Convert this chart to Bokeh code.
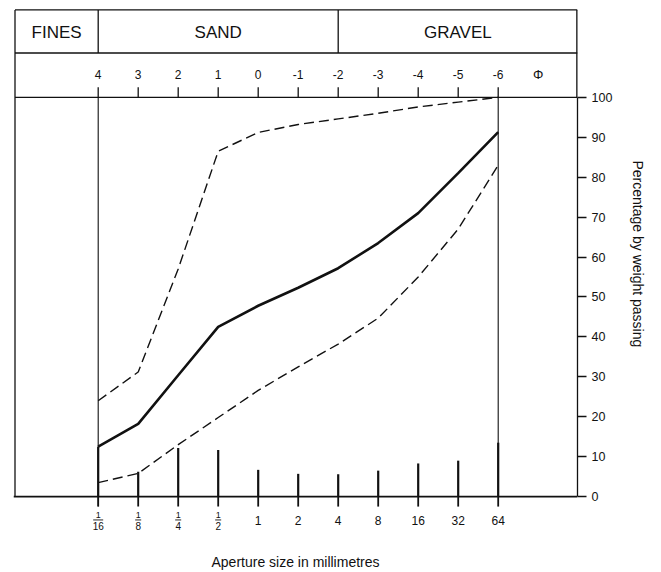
import numpy as np
from bokeh.plotting import figure
from bokeh.models import LinearAxis, FixedTicker, Range1d, ColumnDataSource, Title
from bokeh.core.properties import value
from bokeh.embed import file_html
from bokeh.resources import INLINE

# ---------------- data ----------------
phi = [4, 3, 2, 1, 0, -1, -2, -3, -4, -5, -6]
aperture_mm = ["1/16", "1/8", "1/4", "1/2", "1", "2", "4", "8", "16", "32", "64"]
median_pct = [12.5, 18.2, 30.4, 42.5, 47.8, 52.3, 57.2, 63.5, 71.0, 81.0, 91.3]
upper_pct = [24.0, 31.2, 57.0, 86.5, 91.2, 93.2, 94.6, 96.0, 97.6, 98.8, 100.0]
lower_pct = [3.5, 5.8, 13.0, 19.8, 26.6, 32.5, 38.2, 44.7, 55.0, 67.0, 83.0]
fraction_pct = [12.5, 6.2, 12.2, 11.7, 6.7, 5.7, 5.6, 6.5, 8.3, 9.0, 13.5]
classes = ["FINES", "SAND", "GRAVEL"]
class_limits_phi = [4, -2]          # fines/sand and sand/gravel limits
pct_ticks = list(range(0, 101, 10))
phi_symbol = "Φ"
y_title = "Percentage by weight passing"
x_title = "Aperture size in millimetres"

# ---------------- styles ----------------
INK = "#111111"
FONT = "Liberation Sans"

u = -np.array(phi, dtype=float)       # log2 of aperture in mm
X0, X1 = -6.1175, 7.9825
Y0, Y1 = -12.75, 122.25
XL = X0 + 1.5 / 40                    # left edge of the frame box
Y_TOP = 121.9                          # top edge of the box
Y_ROW = 111.1                          # divider between class row and phi row
Y_PHI_TXT = 105.8
Y_CLS_TXT = 116.3

p = figure(width=661, height=572, output_backend="svg", toolbar_location=None,
           x_range=Range1d(X0, X1), y_range=Range1d(Y0, Y1),
           x_axis_location=None, y_axis_location=None,
           min_border_left=13, min_border_right=84, min_border_top=8,
           min_border_bottom=24)
p.outline_line_color = None
p.grid.visible = False
p.background_fill_color = "white"
p.border_fill_color = "white"

# ---------- box / header frame ----------
u_lim = [-float(v) for v in class_limits_phi]
hx0 = [XL, XL, XL, XL] + u_lim
hx1 = [XL, X1, X1, X1] + u_lim
hy0 = [0, Y_TOP, Y_ROW, 100] + [Y_ROW, Y_ROW]
hy1 = [Y_TOP, Y_TOP, Y_ROW, 100] + [Y_TOP, Y_TOP]
p.segment(x0=hx0, y0=hy0, x1=hx1, y1=hy1, line_color=INK, line_width=1.3)
# right edge above the axis (half clipped at the frame edge)
p.segment(x0=[X1], y0=[100], x1=[X1], y1=[Y_TOP], line_color=INK, line_width=2.6)

# class names
edges = [XL] + u_lim + [X1]
cls_x = [(edges[i] + edges[i + 1]) / 2 for i in range(len(classes))]
p.text(x=cls_x, y=[Y_CLS_TXT] * len(classes), text=classes,
       text_font=value(FONT), text_font_size="17px", text_align="center",
       text_baseline="middle", text_color=INK)

# phi ticks and labels
p.segment(x0=u, y0=[100] * len(u), x1=u, y1=[102.5] * len(u),
          line_color=INK, line_width=1.3)
p.text(x=u, y=[Y_PHI_TXT] * len(u), text=[str(v) for v in phi],
       text_font=value(FONT), text_font_size="12px", text_align="center",
       text_baseline="middle", text_color=INK)
p.text(x=[u[-1] + 1], y=[Y_PHI_TXT], text=[phi_symbol],
       text_font=value(FONT), text_font_size="13px", text_align="center",
       text_baseline="middle", text_color=INK)

# limits of the sieve range (thin full-height lines)
p.segment(x0=[u[0], u[-1]], y0=[-2.5, 0], x1=[u[0], u[-1]], y1=[100, 100],
          line_color=INK, line_width=1.1)

# baseline and bottom ticks
p.segment(x0=[X0], y0=[0], x1=[X1], y1=[0], line_color=INK, line_width=1.6)
p.segment(x0=u, y0=[0] * len(u), x1=u, y1=[-2.5] * len(u),
          line_color=INK, line_width=1.8)

# bottom aperture labels
int_idx = [i for i, s in enumerate(aperture_mm) if "/" not in s]
frac_idx = [i for i, s in enumerate(aperture_mm) if "/" in s]
p.text(x=u[int_idx], y=[-5.9] * len(int_idx), text=[aperture_mm[i] for i in int_idx],
       text_font=value(FONT), text_font_size="12px", text_align="center",
       text_baseline="middle", text_color=INK)
nums = [aperture_mm[i].split("/")[0] for i in frac_idx]
dens = [aperture_mm[i].split("/")[1] for i in frac_idx]
p.text(x=u[frac_idx], y=[-4.6] * len(frac_idx), text=nums,
       text_font=value(FONT), text_font_size="9px", text_align="center",
       text_baseline="middle", text_color=INK)
p.text(x=u[frac_idx], y=[-7.3] * len(frac_idx), text=dens,
       text_font=value(FONT), text_font_size="10px", text_align="center",
       text_baseline="middle", text_color=INK)
half = [(5.0 if len(d) > 1 else 3.0) / 40 for d in dens]
p.segment(x0=u[frac_idx] - half, y0=[-5.85] * len(frac_idx),
          x1=u[frac_idx] + half, y1=[-5.85] * len(frac_idx),
          line_color=INK, line_width=0.9)

# fraction spikes
p.segment(x0=u, y0=[0] * len(u), x1=u, y1=fraction_pct, line_color=INK, line_width=2.2)

# grading curves
src = ColumnDataSource(dict(u=u, med=median_pct, up=upper_pct, lo=lower_pct))
p.line("u", "up", source=src, line_color=INK, line_width=1.4, line_dash="10 5")
p.line("u", "lo", source=src, line_color=INK, line_width=1.4, line_dash="10 5")
p.line("u", "med", source=src, line_color=INK, line_width=2.6)

# right percentage axis
ax = LinearAxis(ticker=FixedTicker(ticks=pct_ticks), bounds=(0, 100),
                major_label_text_font=FONT, major_label_text_font_size="12.5px",
                major_label_text_color=INK, major_label_standoff=5,
                major_tick_out=9, major_tick_in=0, major_tick_line_color=INK,
                major_tick_line_width=1.3, minor_tick_line_color=None,
                axis_line_color=INK, axis_line_width=1.3)
p.add_layout(ax, "right")

# vertical title of the percentage axis (reads top to bottom)
p.add_layout(Title(text=y_title, align="left", offset=152, vertical_align="middle",
                   standoff=27, text_font=FONT, text_font_size="14px",
                   text_font_style="normal", text_color=INK), "right")

# bottom title as an axis label
bx = LinearAxis(ticker=FixedTicker(ticks=[]), axis_line_color=None,
                major_tick_line_color=None, minor_tick_line_color=None,
                major_tick_out=0, major_tick_in=0, major_label_standoff=0,
                major_label_text_font_size="0px",
                axis_label=x_title, axis_label_standoff=6,
                axis_label_text_font=FONT, axis_label_text_font_size="14px",
                axis_label_text_font_style="normal", axis_label_text_color=INK)
p.add_layout(bx, "below")

open("out.html", "w").write(file_html(p, INLINE))
